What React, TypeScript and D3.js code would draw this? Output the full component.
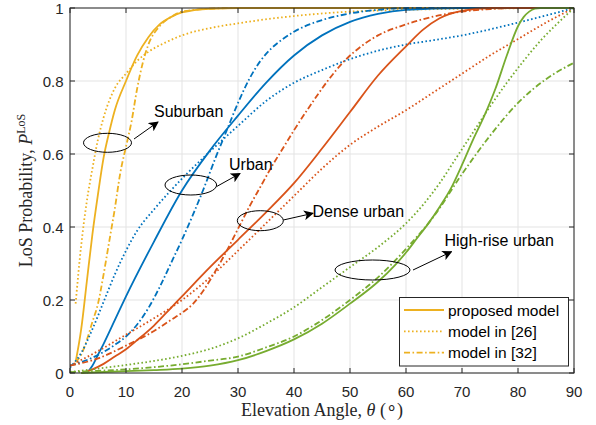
import { useEffect, useRef } from 'react'
import * as d3 from 'd3'

type Pt = [number, number]

// elevation angle (deg), LoS probability
const suburbanProposed: Pt[] = [[1, 0.03], [2, 0.12], [3, 0.25], [4, 0.38], [5, 0.49], [6, 0.59], [7, 0.66], [8, 0.72], [10, 0.8], [12, 0.87], [14, 0.92], [16, 0.955], [18, 0.975], [20, 0.988], [25, 0.998], [30, 1], [90, 1]]
const suburban26: Pt[] = [[1, 0.19], [2, 0.35], [3, 0.47], [4, 0.56], [5, 0.64], [6, 0.7], [8, 0.78], [10, 0.82], [12, 0.855], [14, 0.88], [17, 0.905], [20, 0.925], [25, 0.945], [30, 0.958], [40, 0.978], [50, 0.99], [60, 0.995], [70, 0.998], [90, 1]]
const suburban32: Pt[] = [[1, 0.03], [2, 0.05], [3, 0.09], [4, 0.14], [5, 0.19], [6, 0.27], [7, 0.36], [8, 0.45], [9, 0.55], [10, 0.62], [11, 0.69], [12, 0.78], [13, 0.85], [14, 0.9], [16, 0.95], [18, 0.975], [20, 0.99], [25, 0.998], [30, 1], [90, 1]]

const urbanProposed: Pt[] = [[3, 0], [4, 0.02], [5, 0.05], [6, 0.08], [8, 0.145], [10, 0.21], [15, 0.36], [20, 0.5], [25, 0.61], [30, 0.705], [35, 0.795], [40, 0.87], [45, 0.925], [50, 0.962], [55, 0.984], [60, 0.995], [70, 1], [90, 1]]
const urban26: Pt[] = [[0, 0.015], [2, 0.055], [4, 0.12], [6, 0.195], [8, 0.27], [10, 0.335], [12, 0.39], [15, 0.448], [18, 0.5], [21, 0.548], [25, 0.607], [30, 0.677], [35, 0.745], [40, 0.795], [45, 0.83], [50, 0.86], [55, 0.883], [60, 0.9], [65, 0.912], [70, 0.925], [80, 0.96], [90, 1]]
const urban32: Pt[] = [[0, 0.02], [4, 0.042], [8, 0.077], [10, 0.1], [12, 0.133], [14, 0.178], [16, 0.235], [18, 0.3], [20, 0.365], [22, 0.435], [24, 0.51], [26, 0.59], [28, 0.665], [30, 0.74], [32, 0.805], [34, 0.855], [36, 0.89], [38, 0.915], [40, 0.935], [45, 0.967], [50, 0.985], [55, 0.995], [60, 1], [90, 1]]

const denseProposed: Pt[] = [[2, 0], [4, 0.01], [6, 0.025], [8, 0.045], [10, 0.065], [12, 0.09], [15, 0.13], [18, 0.178], [20, 0.21], [25, 0.29], [30, 0.365], [35, 0.44], [40, 0.52], [45, 0.615], [50, 0.715], [55, 0.815], [60, 0.895], [63, 0.94], [66, 0.972], [70, 0.992], [75, 1], [90, 1]]
const dense26: Pt[] = [[0, 0.02], [5, 0.06], [10, 0.105], [15, 0.15], [20, 0.2], [25, 0.262], [30, 0.335], [35, 0.41], [40, 0.485], [45, 0.56], [50, 0.625], [55, 0.675], [60, 0.72], [65, 0.77], [70, 0.82], [75, 0.87], [80, 0.915], [85, 0.96], [90, 1]]
const dense32: Pt[] = [[0, 0.02], [5, 0.04], [10, 0.075], [15, 0.115], [18, 0.145], [20, 0.165], [22, 0.19], [24, 0.23], [26, 0.28], [28, 0.335], [30, 0.395], [32, 0.455], [34, 0.51], [36, 0.565], [38, 0.615], [40, 0.665], [43, 0.735], [46, 0.8], [49, 0.855], [52, 0.895], [55, 0.925], [60, 0.955], [65, 0.977], [70, 0.99], [75, 0.997], [80, 1], [90, 1]]

const highriseProposed: Pt[] = [[2, 0], [5, 0.002], [10, 0.005], [15, 0.008], [20, 0.012], [25, 0.02], [30, 0.035], [35, 0.06], [40, 0.092], [45, 0.135], [50, 0.19], [55, 0.25], [58, 0.295], [60, 0.33], [62, 0.37], [64, 0.41], [66, 0.455], [68, 0.505], [70, 0.57], [72, 0.64], [74, 0.705], [76, 0.78], [78, 0.87], [80, 0.95], [81, 0.975], [82, 0.99], [83, 0.998], [84, 1], [90, 1]]
const highrise26: Pt[] = [[0, 0.003], [5, 0.012], [10, 0.022], [15, 0.033], [20, 0.047], [25, 0.066], [30, 0.095], [35, 0.135], [40, 0.18], [45, 0.235], [50, 0.29], [55, 0.345], [60, 0.41], [63, 0.46], [66, 0.52], [69, 0.59], [72, 0.66], [75, 0.73], [78, 0.795], [81, 0.855], [84, 0.91], [87, 0.957], [90, 1]]
const highrise32: Pt[] = [[0, 0.002], [5, 0.006], [10, 0.01], [15, 0.016], [20, 0.024], [25, 0.034], [30, 0.045], [35, 0.07], [40, 0.1], [45, 0.145], [50, 0.2], [55, 0.262], [60, 0.34], [65, 0.43], [70, 0.545], [75, 0.65], [80, 0.74], [85, 0.805], [90, 0.85]]

const xTicks = [0, 10, 20, 30, 40, 50, 60, 70, 80, 90]
const yTicks = [0, 0.2, 0.4, 0.6, 0.8, 1]
const legendLabels = ['proposed model', 'model in [26]', 'model in [32]']

const colors = { suburban: '#EDB120', urban: '#0072BD', dense: '#D95319', highrise: '#77AC30' }
const dashes = { proposed: null, m26: '1.6 2.4', m32: '6 2.5 1.6 2.5' }

const series = [
  { data: suburbanProposed, color: colors.suburban, dash: dashes.proposed },
  { data: suburban26, color: colors.suburban, dash: dashes.m26 },
  { data: suburban32, color: colors.suburban, dash: dashes.m32 },
  { data: urbanProposed, color: colors.urban, dash: dashes.proposed },
  { data: urban26, color: colors.urban, dash: dashes.m26 },
  { data: urban32, color: colors.urban, dash: dashes.m32 },
  { data: denseProposed, color: colors.dense, dash: dashes.proposed },
  { data: dense26, color: colors.dense, dash: dashes.m26 },
  { data: dense32, color: colors.dense, dash: dashes.m32 },
  { data: highriseProposed, color: colors.highrise, dash: dashes.proposed },
  { data: highrise26, color: colors.highrise, dash: dashes.m26 },
  { data: highrise32, color: colors.highrise, dash: dashes.m32 },
]

// annotations: ellipse (cx, cy, rx, ry), arrow start/end, label position
const notes = [
  { text: 'Suburban', e: [107.5, 142.8, 24, 9.5], a: [134, 139, 158, 122], t: [154, 117] },
  { text: 'Urban', e: [190.8, 185, 25.8, 10], a: [216.7, 186.5, 240, 173.5], t: [229, 169.5] },
  { text: 'Dense urban', e: [260.3, 220.7, 23, 10], a: [283.3, 220, 313, 213.3], t: [312.5, 217] },
  { text: 'High-rise urban', e: [372.5, 270, 37.5, 10], a: [413, 270, 451.5, 251.7], t: [444.5, 246] },
]

export default function App() {
  const ref = useRef<SVGSVGElement>(null)

  useEffect(() => {
    const svg = d3.select(ref.current)
    svg.selectAll('*').remove()

    const left = 70, right = 574, top = 8, bottom = 373
    const axisColor = '#262626'
    const font = "'Liberation Sans', Arial, Helvetica, sans-serif"

    const x = d3.scaleLinear().domain([0, 90]).range([left, right])
    const y = d3.scaleLinear().domain([0, 1]).range([bottom, top])

    svg.append('rect').attr('width', 596).attr('height', 425).attr('fill', '#fff')

    const defs = svg.append('defs')
    defs.append('clipPath').attr('id', 'plot-clip')
      .append('rect').attr('x', left).attr('y', top - 2).attr('width', right - left).attr('height', bottom - top + 3)
    defs.append('marker')
      .attr('id', 'arrow-head')
      .attr('viewBox', '0 0 10 10')
      .attr('refX', 9).attr('refY', 5)
      .attr('markerWidth', 10).attr('markerHeight', 10)
      .attr('markerUnits', 'userSpaceOnUse')
      .attr('orient', 'auto')
      .append('path').attr('d', 'M0,0 L10,5 L0,10 L2.5,5 Z').attr('fill', '#000')

    // grid
    const grid = svg.append('g').attr('stroke', '#e3e3e3').attr('stroke-width', 1)
    xTicks.forEach(t => {
      grid.append('line').attr('x1', x(t)).attr('x2', x(t)).attr('y1', top).attr('y2', bottom)
    })
    yTicks.forEach(t => {
      grid.append('line').attr('x1', left).attr('x2', right).attr('y1', y(t)).attr('y2', y(t))
    })

    // curves
    const line = d3.line<Pt>()
      .x(d => x(d[0]))
      .y(d => y(d[1]))
      .curve(d3.curveMonotoneX)

    const curves = svg.append('g').attr('clip-path', 'url(#plot-clip)')
    series.forEach(s => {
      curves.append('path')
        .attr('d', line(s.data))
        .attr('fill', 'none')
        .attr('stroke', s.color)
        .attr('stroke-width', 1.8)
        .attr('stroke-dasharray', s.dash)
    })

    // axes (box with inward ticks)
    const axes = svg.append('g').attr('stroke', axisColor).attr('stroke-width', 1)
    axes.append('rect').attr('x', left).attr('y', top).attr('width', right - left).attr('height', bottom - top).attr('fill', 'none')
    xTicks.forEach(t => {
      axes.append('line').attr('x1', x(t)).attr('x2', x(t)).attr('y1', bottom).attr('y2', bottom - 5)
      axes.append('line').attr('x1', x(t)).attr('x2', x(t)).attr('y1', top).attr('y2', top + 5)
    })
    yTicks.forEach(t => {
      axes.append('line').attr('x1', left).attr('x2', left + 5).attr('y1', y(t)).attr('y2', y(t))
      axes.append('line').attr('x1', right).attr('x2', right - 5).attr('y1', y(t)).attr('y2', y(t))
    })

    const labels = svg.append('g').attr('font-family', font).attr('font-size', 15).attr('fill', axisColor)
    xTicks.forEach(t => {
      labels.append('text').attr('x', x(t)).attr('y', 396.5).attr('text-anchor', 'middle').text(d3.format('d')(t))
    })
    yTicks.forEach(t => {
      labels.append('text').attr('x', 63.5).attr('y', y(t) + 5.5).attr('text-anchor', 'end').text(String(t))
    })

    // axis titles
    const serif = "'Liberation Serif', 'Times New Roman', serif"
    const xt = svg.append('text')
      .attr('x', (left + right) / 2).attr('y', 416)
      .attr('text-anchor', 'middle')
      .attr('font-family', serif).attr('font-size', 18).attr('fill', axisColor)
    xt.append('tspan').text('Elevation Angle, ')
    xt.append('tspan').attr('font-style', 'italic').text('θ')
    xt.append('tspan').text(' (')
    xt.append('tspan').attr('dy', -3).text('∘')
    xt.append('tspan').attr('dy', 3).text(')')

    const yt = svg.append('text')
      .attr('transform', `translate(32,${(top + bottom) / 2}) rotate(-90)`)
      .attr('text-anchor', 'middle')
      .attr('font-family', serif).attr('font-size', 18).attr('fill', axisColor)
    yt.append('tspan').text('LoS Probability, ')
    yt.append('tspan').attr('font-style', 'italic').text('P')
    yt.append('tspan').attr('dy', -7).attr('font-size', 12).text('LoS')

    // annotations
    const ann = svg.append('g')
    notes.forEach(n => {
      ann.append('ellipse')
        .attr('cx', n.e[0]).attr('cy', n.e[1]).attr('rx', n.e[2]).attr('ry', n.e[3])
        .attr('fill', 'none').attr('stroke', '#000').attr('stroke-width', 1)
      ann.append('line')
        .attr('x1', n.a[0]).attr('y1', n.a[1]).attr('x2', n.a[2]).attr('y2', n.a[3])
        .attr('stroke', '#000').attr('stroke-width', 1)
        .attr('marker-end', 'url(#arrow-head)')
      ann.append('text')
        .attr('x', n.t[0]).attr('y', n.t[1])
        .attr('font-family', font).attr('font-size', 16).attr('fill', '#000')
        .text(n.text)
    })

    // legend
    const lg = svg.append('g')
    lg.append('rect')
      .attr('x', 399.5).attr('y', 297.5).attr('width', 169).attr('height', 68.5)
      .attr('fill', '#fff').attr('stroke', axisColor).attr('stroke-width', 1)
    const legendDash = [dashes.proposed, dashes.m26, dashes.m32]
    legendLabels.forEach((label, i) => {
      const ly = 310 + i * 21.3
      lg.append('line')
        .attr('x1', 404).attr('x2', 444).attr('y1', ly).attr('y2', ly)
        .attr('stroke', colors.suburban).attr('stroke-width', 1.8)
        .attr('stroke-dasharray', legendDash[i])
      lg.append('text')
        .attr('x', 448).attr('y', ly + 5.5)
        .attr('font-family', font).attr('font-size', 15.5).attr('fill', '#000')
        .text(label)
    })
  }, [])

  return (
    <svg
      ref={ref}
      width={596}
      height={425}
      style={{ position: 'absolute', left: 0, top: 0, display: 'block' }}
    />
  )
}
